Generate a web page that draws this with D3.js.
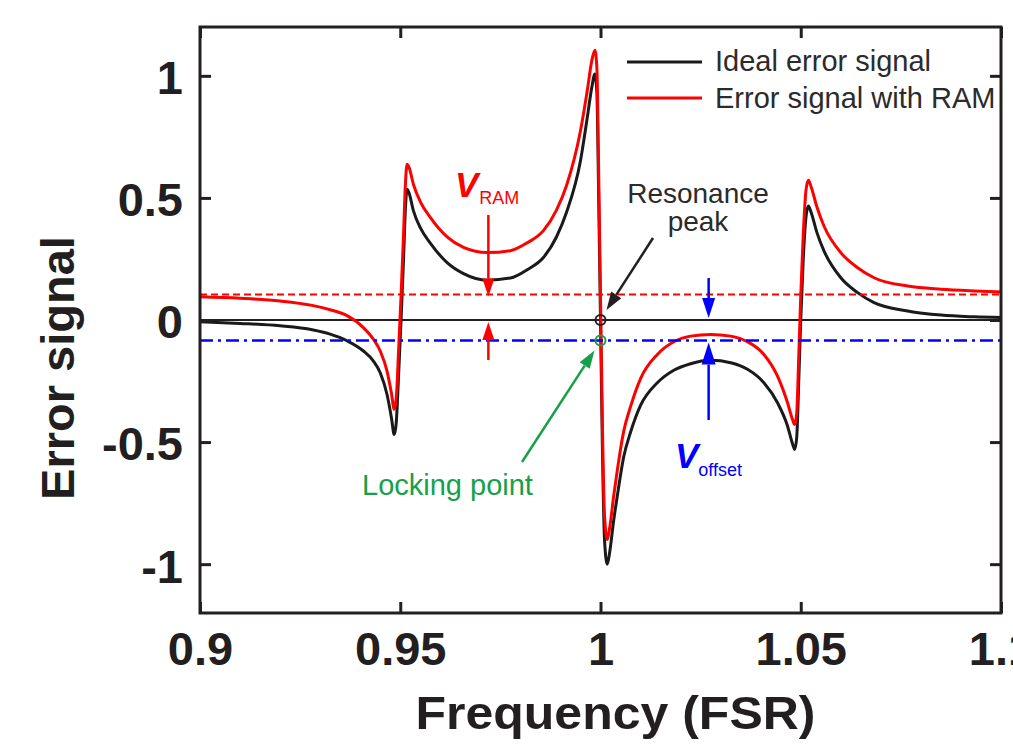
<!DOCTYPE html>
<html>
<head>
<meta charset="utf-8">
<script src="https://cdn.jsdelivr.net/npm/d3@7"></script>
<style>
  html, body { margin: 0; padding: 0; background: #fff; }
  svg { display: block; font-family: "Liberation Sans", Arial, sans-serif; }
</style>
</head>
<body>
<svg id="chart" width="1013" height="754"></svg>
<script>
// frequency samples (FSR)
const freq = [0.900, 0.910, 0.920, 0.928, 0.9325, 0.9367, 0.9408, 0.9433, 0.9450, 0.9467,
  0.9478, 0.9485, 0.9490, 0.9496, 0.9502, 0.9508, 0.9513, 0.9517, 0.9522, 0.9533,
  0.9550, 0.9575, 0.9617, 0.9658, 0.9717, 0.9775, 0.9817, 0.9858, 0.9890, 0.9915,
  0.9950, 0.9967, 0.9978, 0.9986, 0.9991, 0.9995, 1.0000, 1.0005, 1.0010, 1.0017,
  1.0023, 1.0033, 1.0042, 1.0058, 1.0075, 1.0100, 1.0142, 1.0183, 1.0225, 1.0275,
  1.0325, 1.0367, 1.0408, 1.0442, 1.0467, 1.0480, 1.0485, 1.0490, 1.0495, 1.0500,
  1.0506, 1.0513, 1.0519, 1.0526, 1.0540, 1.0558, 1.0600, 1.0642, 1.0683, 1.0767,
  1.0850, 1.0933, 1.1000];

// ideal error signal (black)
const idealSignal = [-0.007, -0.014, -0.024, -0.040, -0.058, -0.085, -0.127, -0.168, -0.216, -0.305,
  -0.40, -0.469, -0.42, -0.22, 0.0, 0.24, 0.46, 0.536, 0.52, 0.447,
  0.378, 0.315, 0.235, 0.190, 0.163, 0.172, 0.206, 0.257, 0.34, 0.44,
  0.652, 0.829, 0.95, 1.007, 0.93, 0.55, 0.0, -0.55, -0.90, -1.0,
  -0.95, -0.82, -0.72, -0.56, -0.46, -0.35, -0.257, -0.206, -0.179, -0.165,
  -0.175, -0.202, -0.257, -0.339, -0.434, -0.51, -0.530, -0.48, -0.25, 0.0,
  0.24, 0.42, 0.467, 0.44, 0.36, 0.283, 0.173, 0.112, 0.071, 0.037,
  0.020, 0.013, 0.010];

// error signal with RAM (red)
const ramSignal = [0.095, 0.089, 0.078, 0.060, 0.042, 0.018, -0.031, -0.079, -0.127, -0.209,
  -0.30, -0.366, -0.32, -0.12, 0.10, 0.34, 0.56, 0.638, 0.625, 0.555,
  0.485, 0.42, 0.34, 0.297, 0.276, 0.284, 0.316, 0.367, 0.45, 0.55,
  0.775, 0.94, 1.06, 1.105, 1.03, 0.65, 0.10, -0.45, -0.80, -0.899,
  -0.85, -0.72, -0.615, -0.455, -0.355, -0.24, -0.141, -0.089, -0.066, -0.059,
  -0.066, -0.089, -0.141, -0.23, -0.339, -0.41, -0.428, -0.38, -0.15, 0.10,
  0.34, 0.53, 0.572, 0.545, 0.465, 0.385, 0.276, 0.214, 0.173, 0.139,
  0.126, 0.119, 0.115];

const xTicks = [0.9, 0.95, 1, 1.05, 1.1];
const xTickLabels = ["0.9", "0.95", "1", "1.05", "1.1"];
const yTicks = [-1, -0.5, 0, 0.5, 1];
const yTickLabels = ["-1", "-0.5", "0", "0.5", "1"];

const ramLevel = 0.104;      // red dashed line
const offsetLevel = -0.084;  // blue dash-dot line
const ramArrowFreq = 0.972;
const offsetArrowFreq = 1.027;
const lockFreq = 1.0;

const svg = d3.select('#chart');
const pL = 200, pR = 1001, pT = 27, pB = 613;

const x = d3.scaleLinear().domain([0.9, 1.1]).range([pL, pR]);
const y = d3.scaleLinear().domain([-1.2, 1.2]).range([pB, pT]);

const ink = '#231f20';
const red = '#ff0000';
const blue = '#0000ff';
const green = '#16a04a';

svg.append('defs').append('clipPath').attr('id', 'plot')
  .append('rect').attr('x', pL).attr('y', pT)
  .attr('width', pR - pL).attr('height', pB - pT);

const plot = svg.append('g').attr('clip-path', 'url(#plot)');

// zero line
plot.append('line')
  .attr('x1', pL).attr('x2', pR)
  .attr('y1', y(0)).attr('y2', y(0))
  .attr('stroke', ink).attr('stroke-width', 2);

const line = d3.line()
  .x((d, i) => x(freq[i]))
  .y(d => y(d))
  .curve(d3.curveMonotoneX);

plot.append('path')
  .attr('d', line(idealSignal))
  .attr('fill', 'none').attr('stroke', '#1a1a1a').attr('stroke-width', 3);

plot.append('path')
  .attr('d', line(ramSignal))
  .attr('fill', 'none').attr('stroke', red).attr('stroke-width', 3);

// level lines
plot.append('line')
  .attr('x1', pL).attr('x2', pR)
  .attr('y1', y(ramLevel)).attr('y2', y(ramLevel))
  .attr('stroke', red).attr('stroke-width', 2)
  .attr('stroke-dasharray', '7,4');

plot.append('line')
  .attr('x1', pL).attr('x2', pR)
  .attr('y1', y(offsetLevel)).attr('y2', y(offsetLevel))
  .attr('stroke', blue).attr('stroke-width', 2.5)
  .attr('stroke-dasharray', '13,5,3,5');

// axes
const xAxis = svg.append('g')
  .attr('transform', `translate(0,${pB})`)
  .call(d3.axisBottom(x).tickValues(xTicks)
    .tickFormat((d, i) => xTickLabels[i]).tickSize(-11).tickPadding(19));
const yAxis = svg.append('g')
  .attr('transform', `translate(${pL},0)`)
  .call(d3.axisLeft(y).tickValues(yTicks)
    .tickFormat((d, i) => yTickLabels[i]).tickSize(-11).tickPadding(17));
svg.append('g')
  .attr('transform', `translate(0,${pT})`)
  .call(d3.axisTop(x).tickValues(xTicks).tickFormat('').tickSize(-11));
svg.append('g')
  .attr('transform', `translate(${pR},0)`)
  .call(d3.axisRight(y).tickValues(yTicks).tickFormat('').tickSize(-11));

svg.selectAll('.domain').remove();
svg.selectAll('.tick line').attr('stroke', ink).attr('stroke-width', 3);
svg.selectAll('.tick text')
  .attr('fill', ink)
  .style('font-size', '47px').style('font-weight', 'bold')
  .style('font-family', '"Liberation Sans", Arial, sans-serif');
yAxis.selectAll('.tick text').attr('dy', '0.38em');

svg.append('rect')
  .attr('x', pL).attr('y', pT)
  .attr('width', pR - pL).attr('height', pB - pT)
  .attr('fill', 'none').attr('stroke', ink).attr('stroke-width', 3);

// axis titles
svg.append('text')
  .attr('x', (pL + pR) / 2 + 15).attr('y', 729)
  .attr('text-anchor', 'middle')
  .attr('fill', ink)
  .style('font-size', '47px').style('font-weight', 'bold')
  .attr('textLength', 400).attr('lengthAdjust', 'spacingAndGlyphs')
  .text('Frequency (FSR)');

svg.append('text')
  .attr('transform', 'translate(74,368) rotate(-90)')
  .attr('text-anchor', 'middle')
  .attr('fill', ink)
  .style('font-size', '47px').style('font-weight', 'bold')
  .text('Error signal');

// legend
const legend = [
  { label: 'Ideal error signal', color: '#1a1a1a', yl: 62, yt: 71 },
  { label: 'Error signal with RAM', color: red, yl: 98, yt: 108 }
];
legend.forEach(d => {
  svg.append('line')
    .attr('x1', 627).attr('x2', 702).attr('y1', d.yl).attr('y2', d.yl)
    .attr('stroke', d.color).attr('stroke-width', 3);
  svg.append('text')
    .attr('x', 715).attr('y', d.yt)
    .attr('fill', '#2b2b2b')
    .style('font-size', '29px')
    .text(d.label);
});

// arrow helper
function arrow(x1, y1, x2, y2, color, w, headLen, headW) {
  const a = Math.atan2(y2 - y1, x2 - x1);
  const bx = x2 - headLen * Math.cos(a), by = y2 - headLen * Math.sin(a);
  const nx = -Math.sin(a) * headW / 2, ny = Math.cos(a) * headW / 2;
  svg.append('line')
    .attr('x1', x1).attr('y1', y1).attr('x2', bx).attr('y2', by)
    .attr('stroke', color).attr('stroke-width', w);
  svg.append('polygon')
    .attr('points', `${x2},${y2} ${bx + nx},${by + ny} ${bx - nx},${by - ny}`)
    .attr('fill', color);
}

// V_RAM arrows
const xr = x(ramArrowFreq);
arrow(xr, 215, xr, y(ramLevel) + 2, red, 2.5, 18, 12);
arrow(xr, 360, xr, y(0) + 2, red, 2.5, 18, 12);

// V_offset arrows
const xo = x(offsetArrowFreq);
arrow(xo, 278, xo, y(0) - 2, blue, 2.5, 20, 13);
arrow(xo, 420, xo, y(offsetLevel) + 2, blue, 2.5, 22, 14);

// resonance / locking points
svg.append('circle')
  .attr('cx', x(lockFreq)).attr('cy', y(0)).attr('r', 5)
  .attr('fill', 'none').attr('stroke', ink).attr('stroke-width', 2);
svg.append('circle')
  .attr('cx', x(lockFreq)).attr('cy', y(offsetLevel)).attr('r', 5)
  .attr('fill', 'none').attr('stroke', green).attr('stroke-width', 2);

arrow(653, 238, x(lockFreq) + 6, y(0) - 10, ink, 2.5, 18, 12);
arrow(522, 462, x(lockFreq) - 6, y(offsetLevel) + 10, green, 2.5, 18, 12);

// labels
svg.append('text').attr('x', 698).attr('y', 203)
  .attr('text-anchor', 'middle').attr('fill', '#2b2b2b')
  .style('font-size', '28px').text('Resonance');
svg.append('text').attr('x', 698).attr('y', 231)
  .attr('text-anchor', 'middle').attr('fill', '#2b2b2b')
  .style('font-size', '28px').text('peak');

svg.append('text').attr('x', 362).attr('y', 495)
  .attr('fill', green).style('font-size', '29px').text('Locking point');

const vram = svg.append('text').attr('x', 455).attr('y', 197).attr('fill', red);
vram.append('tspan').style('font-size', '35px').style('font-weight', 'bold')
  .style('font-style', 'italic').text('V');
vram.append('tspan').attr('dy', 7).attr('dx', 1).style('font-size', '18px').text('RAM');

const voff = svg.append('text').attr('x', 675).attr('y', 468).attr('fill', blue);
voff.append('tspan').style('font-size', '35px').style('font-weight', 'bold')
  .style('font-style', 'italic').text('V');
voff.append('tspan').attr('dy', 8).attr('dx', 0).style('font-size', '18px').text('offset');
</script>
</body>
</html>
